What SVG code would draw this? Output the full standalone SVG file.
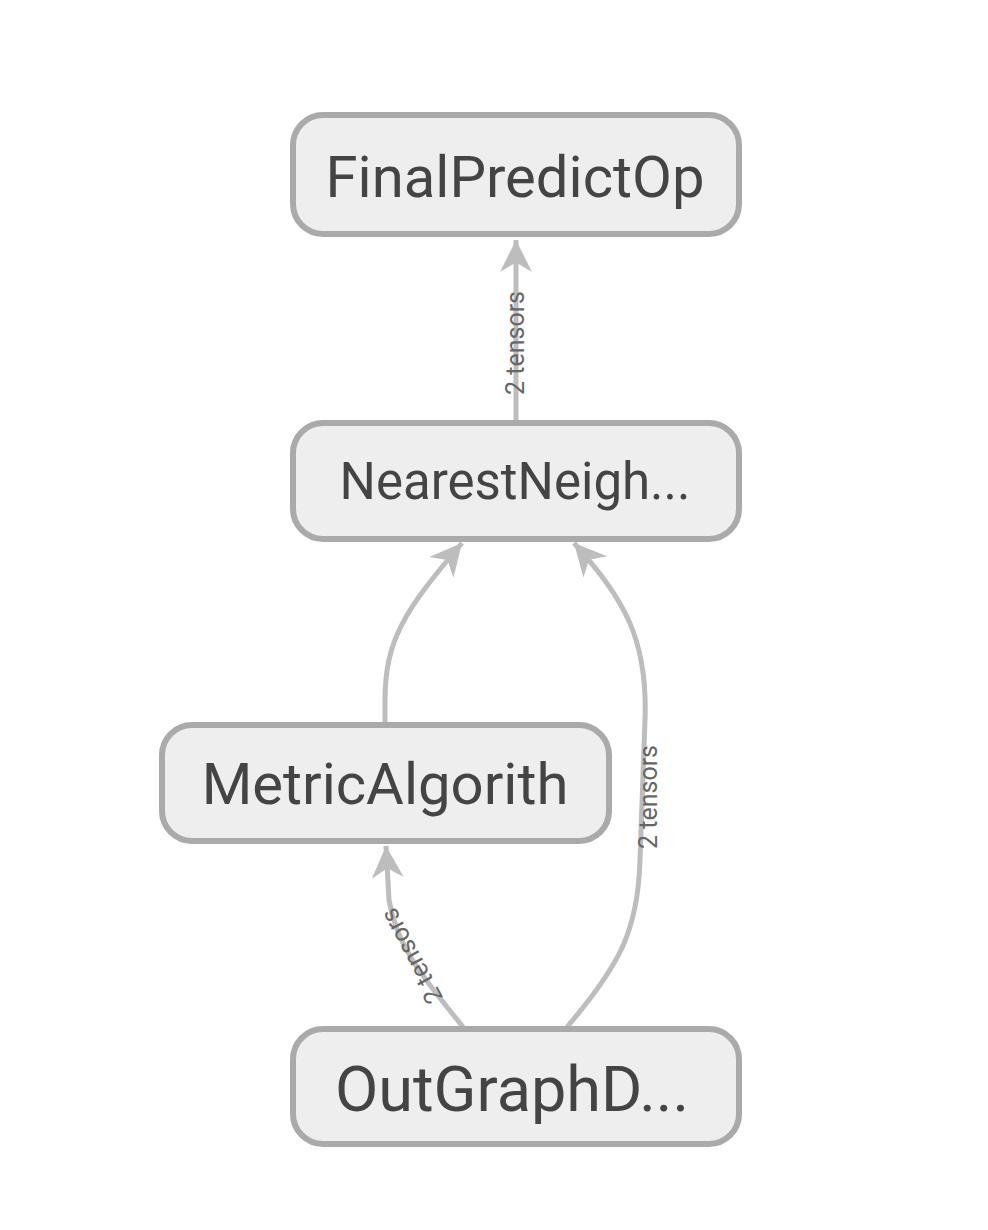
<svg xmlns="http://www.w3.org/2000/svg" width="988" height="1230" viewBox="0 0 988 1230">
<style>
.node rect{fill:#eeeeee;stroke:#aaaaaa;stroke-width:6}
.node text{font-family:Roboto,"Liberation Sans",sans-serif;fill:#444444;text-anchor:middle}
.edge{fill:none;stroke:#bdbdbd;stroke-width:5}
.lbl{font-family:Roboto,"Liberation Sans",sans-serif;font-size:25px;fill:#666666;text-anchor:middle}
</style>
<defs>
<marker id="arr" viewBox="0 0 10 10" refX="10" refY="5" markerUnits="userSpaceOnUse" markerWidth="36" markerHeight="32" orient="auto">
<path d="M0,0 L10,5 L0,10 L3,5 z" fill="#bdbdbd"/>
</marker>
</defs>
<rect width="988" height="1230" fill="#ffffff"/>
<g id="edges">
<path class="edge" d="M516,422 L516,240" marker-end="url(#arr)"/>
<path class="edge" d="M385,724 L385,700 C385,640 405,610 462,543" marker-end="url(#arr)"/>
<path class="edge" d="M567,1027 C620,965 638,930 640,860 L645,720 C648,640 625,600 574,543" marker-end="url(#arr)"/>
<path class="edge" d="M463,1027 C430,985 397,950 389,900 L386,846" marker-end="url(#arr)"/>
<text class="lbl" transform="translate(524,343) rotate(-90)">2 tensors</text>
<text class="lbl" transform="translate(657,797) rotate(-90)">2 tensors</text>
<text class="lbl" transform="translate(419,952) rotate(-118)">2 tensors</text>
</g>
<g id="FinalPredictOp" class="node">
<rect x="293" y="115" width="446" height="119" rx="30"/>
<text x="515" y="197" font-size="58">FinalPredictOp</text>
</g>
<g id="NearestNeigh" class="node">
<rect x="293" y="423" width="446" height="116" rx="30"/>
<text x="515" y="499" font-size="51">NearestNeigh...</text>
</g>
<g id="MetricAlgorith" class="node">
<rect x="162" y="725" width="447" height="116" rx="30"/>
<text x="385" y="804" font-size="58">MetricAlgorith</text>
</g>
<g id="OutGraphD" class="node">
<rect x="293" y="1029" width="446" height="115" rx="30"/>
<text x="512" y="1111" font-size="63">OutGraphD...</text>
</g>
</svg>
